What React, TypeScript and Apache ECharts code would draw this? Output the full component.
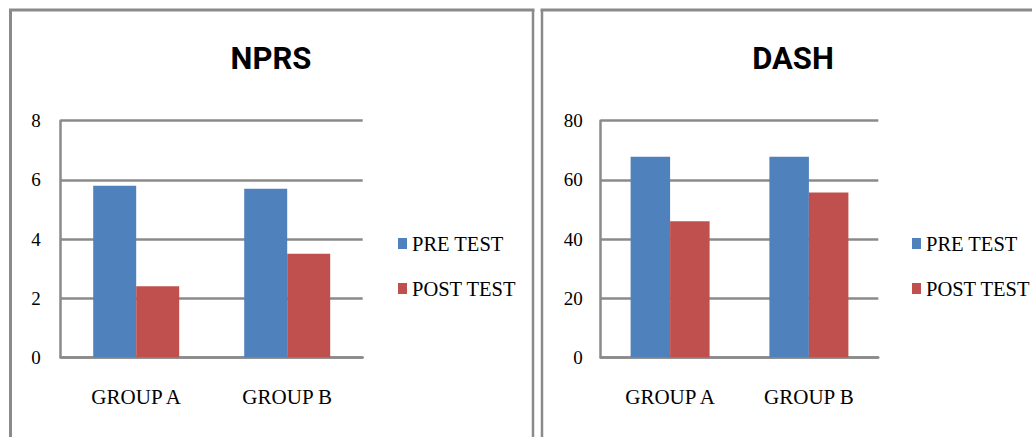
import React, { useEffect, useRef } from "react";
import * as echarts from "echarts";

const categories = ["GROUP A", "GROUP B"];
const seriesNames = ["PRE TEST", "POST TEST"];
const nprsPre = [5.8, 5.7];
const nprsPost = [2.4, 3.5];
const dashPre = [67.8, 67.8];
const dashPost = [46, 55.7];
const nprsTicks = { min: 0, max: 8, interval: 2 };
const dashTicks = { min: 0, max: 80, interval: 20 };

const BLUE = "#4F81BD";
const RED = "#C0504D";
const GRID_GRAY = "#8a8a8a";
const SERIF = "Liberation Serif, serif";
const TITLE_FONT = "Roboto, sans-serif";

export default function App() {
  const ref = useRef<HTMLDivElement>(null);
  useEffect(() => {
    document.body.style.margin = "0";
    const chart = echarts.init(ref.current!, null, { renderer: "svg" });
    const yAxisBase = (t: any, margin: number) => ({
      type: "value",
      min: t.min,
      max: t.max,
      interval: t.interval,
      axisLine: { show: true, lineStyle: { color: GRID_GRAY, width: 2.5 } },
      axisTick: { show: false },
      splitLine: { show: true, lineStyle: { color: GRID_GRAY, width: 2.5 } },
      axisLabel: { color: "#000", fontFamily: SERIF, fontSize: 19, margin },
    });
    const xAxisBase = (gridIndex: number) => ({
      type: "category",
      gridIndex,
      data: categories,
      axisLine: { show: true, lineStyle: { color: GRID_GRAY, width: 2.5 } },
      axisTick: { show: false },
      axisLabel: { color: "#000", fontFamily: SERIF, fontSize: 21, margin: 29 },
    });
    const legendBase = (left: number) => ({
      orient: "vertical",
      left,
      top: 228,
      itemWidth: 9,
      itemHeight: 11,
      itemGap: 24,
      icon: "rect",
      data: seriesNames,
      textStyle: { color: "#000", fontFamily: SERIF, fontSize: 20.5, lineHeight: 21 },
    });
    chart.setOption({
      animation: false,
      backgroundColor: "#fff",
      grid: [
        { left: 60.7, top: 120.7, width: 302, height: 236.6, containLabel: false },
        { left: 600.7, top: 120.7, width: 277.6, height: 236.6, containLabel: false },
      ],
      xAxis: [xAxisBase(0), xAxisBase(1)],
      yAxis: [
        { ...yAxisBase(nprsTicks, 20), gridIndex: 0 },
        { ...yAxisBase(dashTicks, 18), gridIndex: 1 },
      ],
      legend: [legendBase(393), legendBase(907)],
      series: [
        { name: seriesNames[0], type: "bar", xAxisIndex: 0, yAxisIndex: 0, data: nprsPre, barWidth: 43, barGap: "0%", itemStyle: { color: BLUE } },
        { name: seriesNames[1], type: "bar", xAxisIndex: 0, yAxisIndex: 0, data: nprsPost, barWidth: 43, barGap: "0%", itemStyle: { color: RED } },
        { name: seriesNames[0], type: "bar", xAxisIndex: 1, yAxisIndex: 1, data: dashPre, barWidth: 39.5, barGap: "0%", itemStyle: { color: BLUE } },
        { name: seriesNames[1], type: "bar", xAxisIndex: 1, yAxisIndex: 1, data: dashPost, barWidth: 39.5, barGap: "0%", itemStyle: { color: RED } },
      ],
      graphic: [
        { type: "line", shape: { x1: 10.5, y1: 10, x2: 10.5, y2: 437 }, style: { stroke: GRID_GRAY, lineWidth: 3 } },
        { type: "line", shape: { x1: 9, y1: 10, x2: 534.5, y2: 10 }, style: { stroke: GRID_GRAY, lineWidth: 3 } },
        { type: "line", shape: { x1: 533, y1: 10, x2: 533, y2: 437 }, style: { stroke: GRID_GRAY, lineWidth: 2.5 } },
        { type: "line", shape: { x1: 542, y1: 10, x2: 542, y2: 437 }, style: { stroke: GRID_GRAY, lineWidth: 2.5 } },
        { type: "line", shape: { x1: 540.5, y1: 10, x2: 1032, y2: 10 }, style: { stroke: GRID_GRAY, lineWidth: 3 } },
        { type: "text", x: 271, y: 58.5, style: { text: "NPRS", textAlign: "center", textVerticalAlign: "middle", fontFamily: TITLE_FONT, fontWeight: "bold", fontSize: 31, fill: "#000" } },
        { type: "text", x: 793, y: 58.5, style: { text: "DASH", textAlign: "center", textVerticalAlign: "middle", fontFamily: TITLE_FONT, fontWeight: "bold", fontSize: 31, fill: "#000" } },
      ],
    });
    return () => chart.dispose();
  }, []);
  return <div ref={ref} style={{ position: "fixed", left: 0, top: 0, width: 1032, height: 437 }} />;
}
